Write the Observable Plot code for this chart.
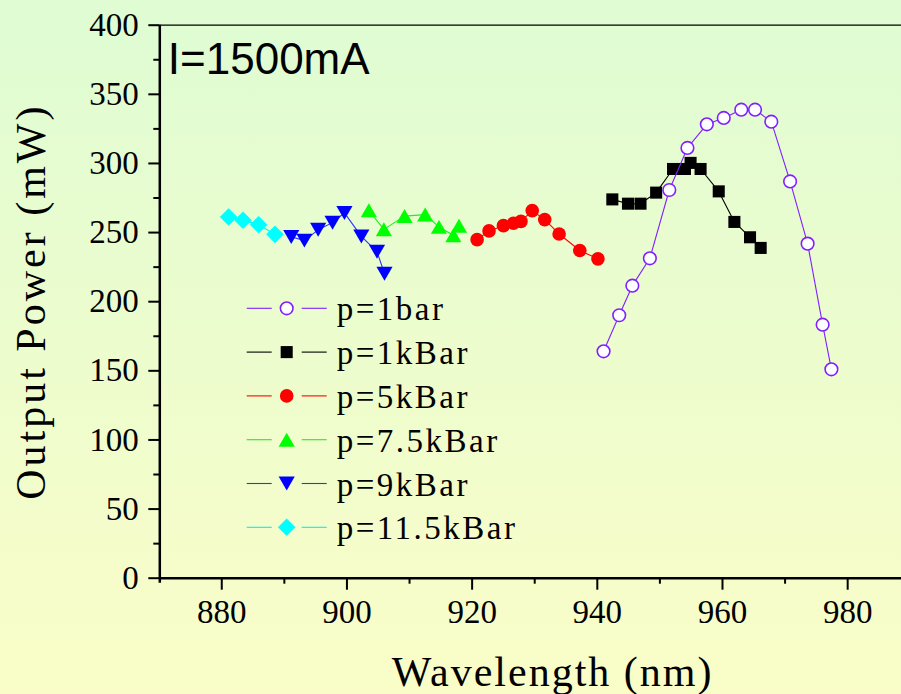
<!DOCTYPE html>
<html><head><meta charset="utf-8">
<script src="https://cdn.jsdelivr.net/npm/d3@7"></script>
<script src="https://cdn.jsdelivr.net/npm/@observablehq/plot@0.6"></script>
<style>
html,body{margin:0;padding:0;}
body{width:901px;height:694px;overflow:hidden;background:linear-gradient(to bottom,#dffcd3,#fafdc8);}
#wrap{position:relative;width:901px;height:694px;}
#wrap svg{position:absolute;left:0;top:0;}
</style></head><body><div id="wrap"></div>
<script>
// ---- data ----
const seriesNames = ["p=1bar", "p=1kBar", "p=5kBar", "p=7.5kBar", "p=9kBar", "p=11.5kBar"];
const w1bar = [941.0, 943.5, 945.6, 948.4, 951.5, 954.4, 957.5, 960.2, 963.0, 965.2, 967.8, 970.8, 973.6, 976.0, 977.4];
const p1bar = [164.1, 190.2, 211.6, 231.4, 280.8, 311.2, 328.3, 332.9, 338.9, 338.9, 330.2, 287.0, 242.0, 183.4, 151.1];
const w1k = [942.4, 944.9, 946.9, 949.4, 952.1, 954.0, 954.9, 956.5, 959.4, 961.9, 964.4, 966.1];
const p1k = [274.0, 270.9, 270.9, 278.9, 296.0, 296.0, 300.4, 296.0, 279.8, 257.7, 246.6, 238.9];
const w5k = [920.8, 922.7, 925.0, 926.6, 927.8, 929.6, 931.6, 933.9, 937.2, 940.1];
const p5k = [244.9, 251.2, 255.0, 256.7, 258.1, 265.9, 259.4, 249.0, 237.0, 231.0];
const w75k = [903.5, 905.9, 909.2, 912.5, 914.7, 917.0, 917.9];
const p75k = [266.1, 252.3, 261.9, 263.0, 254.1, 248.0, 255.0];
const w9k = [891.1, 893.2, 895.4, 897.7, 899.6, 902.3, 904.8, 906.0];
const p9k = [246.9, 244.2, 252.0, 257.2, 264.2, 247.2, 236.2, 220.3];
const w115k = [881.1, 883.4, 885.9, 888.5];
const p115k = [261.3, 258.9, 255.7, 248.7];
const xTicks = [880, 900, 920, 940, 960, 980];
const xMinor = [890, 910, 930, 950, 970];
const yTicks = [0, 50, 100, 150, 200, 250, 300, 350, 400];
const yMinor = [25, 75, 125, 175, 225, 275, 325, 375];
const annotation = "I=1500mA";
const xLabel = "Wavelength (nm)";
const yLabel = "Output Power (mW)";

// ---- styles per series ----
const styles = [
  {color: "#8020ff", symbol: "circle", rotate: 0, r: 6.3, fill: "white", stroke: "#8020ff", dy: 0},
  {color: "#000000", symbol: "square", rotate: 0, r: 6.8, fill: "#000000", stroke: "none", dy: 0},
  {color: "#ff0000", symbol: "circle", rotate: 0, r: 6.8, fill: "#ff0000", stroke: "none", dy: 0},
  {color: "#22ee22", symbol: "triangle", rotate: 0, r: 6.0, fill: "#00ff00", stroke: "none", dy: 2.3},
  {color: "#3030ff", symbol: "triangle", rotate: 180, r: 6.0, fill: "#0000ff", stroke: "none", dy: -2.3},
  {color: "#00f0f0", symbol: "square", rotate: 45, r: 7.0, fill: "#00ffff", stroke: "none", dy: 0}
];
const ws = [w1bar, w1k, w5k, w75k, w9k, w115k];
const ps = [p1bar, p1k, p5k, p75k, p9k, p115k];
const tables = ws.map((w, i) => w.map((x, j) => ({w: x, p: ps[i][j], s: seriesNames[i]})));

const X0 = 870.1, X1 = 988.6;
const drawOrder = [5, 4, 3, 2, 1, 0];
const seriesMarks = [];
for (const i of drawOrder) {
  const st = styles[i];
  seriesMarks.push(Plot.line(tables[i], {x: "w", y: "p", stroke: st.color, strokeWidth: 1.1}));
  seriesMarks.push(Plot.dot(tables[i], {x: "w", y: "p", symbol: st.symbol, rotate: st.rotate, r: st.r,
    fill: st.fill, stroke: st.stroke, strokeWidth: 1.6, dy: st.dy}));
}

const chart = Plot.plot({
  width: 901, height: 694,
  marginLeft: 159.3, marginRight: 0, marginTop: 24.7, marginBottom: 116.3,
  x: {domain: [X0, X1]},
  y: {domain: [0, 400]},
  style: {background: "transparent", fontFamily: "Liberation Serif", color: "#000"},
  marks: [
    Plot.ruleY([400], {stroke: "#000", strokeWidth: 1.3}),
    Plot.axisX({ticks: xMinor, tickSize: 6, tickFormat: () => "", strokeWidth: 2, label: null}),
    Plot.axisX({ticks: xTicks, tickSize: 12, tickPadding: 9, fontSize: 33, strokeWidth: 2, label: null, tickFormat: d => String(d)}),
    Plot.axisY({ticks: yMinor, tickSize: 6, tickFormat: () => "", strokeWidth: 2, label: null}),
    Plot.axisY({ticks: yTicks, tickSize: 11, tickPadding: 10, fontSize: 33, strokeWidth: 2, label: null, tickFormat: d => String(d)}),
    Plot.ruleY([0], {stroke: "#000", strokeWidth: 2.5}),
    Plot.ruleX([X0], {stroke: "#000", strokeWidth: 2.5, insetBottom: -5}),
    Plot.text([annotation], {frameAnchor: "top-left", dx: 8, dy: 18, lineAnchor: "top", textAnchor: "start",
      fontFamily: "Liberation Sans", fontSize: 44, fill: "#000"}),
    Plot.text([xLabel], {frameAnchor: "bottom", dx: 22, dy: 94, lineAnchor: "middle", fontSize: 42, fill: "#000"}),
    Plot.text([yLabel], {frameAnchor: "left", dx: -128, rotate: -90, textAnchor: "middle", lineAnchor: "middle", fontSize: 42, fill: "#000"}),
    ...seriesMarks
  ]
});
document.getElementById("wrap").appendChild(chart);
d3.select(chart).selectAll("text").filter(function () { return this.textContent === xLabel; }).attr("letter-spacing", "2px");
d3.select(chart).selectAll("text").filter(function () { return this.textContent === yLabel; }).attr("letter-spacing", "3px");

// ---- legend (overlay) ----
const leg = d3.select("#wrap").append("svg").attr("width", 901).attr("height", 694).style("pointer-events", "none");
const legY0 = 308.3, legStep = 43.8;
styles.forEach((st, i) => {
  const y = legY0 + i * legStep;
  const g = leg.append("g");
  g.append("line").attr("x1", 246.7).attr("x2", 271.7).attr("y1", y).attr("y2", y).attr("stroke", st.color).attr("stroke-width", 1.1);
  g.append("line").attr("x1", 301.7).attr("x2", 326.7).attr("y1", y).attr("y2", y).attr("stroke", st.color).attr("stroke-width", 1.1);
  const sym = st.symbol === "circle" ? d3.symbolCircle : st.symbol === "square" ? d3.symbolSquare : d3.symbolTriangle;
  g.append("path").attr("d", d3.symbol(sym, Math.PI * st.r * st.r)())
    .attr("transform", `translate(286.7,${y + st.dy}) rotate(${st.rotate})`)
    .attr("fill", st.fill).attr("stroke", st.stroke).attr("stroke-width", 1.6);
  g.append("text").attr("x", 336.7).attr("y", y + 12).attr("font-family", "Liberation Serif").attr("font-size", 33)
    .attr("letter-spacing", "2.5px").attr("fill", "#000").text(seriesNames[i]);
});
</script></body></html>
